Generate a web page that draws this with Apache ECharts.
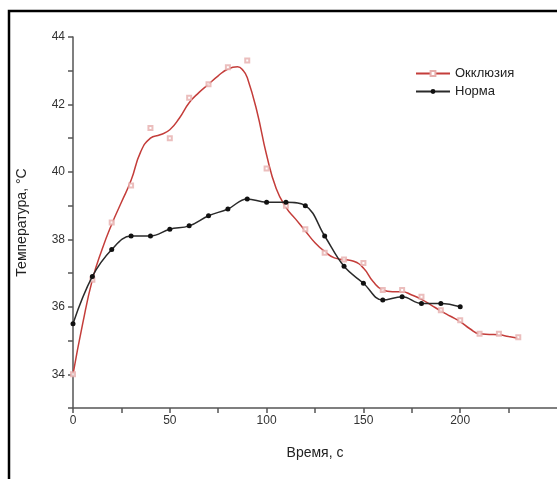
<!DOCTYPE html>
<html>
<head>
<meta charset="utf-8">
<script src="https://cdn.jsdelivr.net/npm/echarts@6/dist/echarts.min.js"></script>
<style>
html, body { margin: 0; padding: 0; background: #fff; }
#main { width: 557px; height: 479px; }
</style>
</head>
<body>
<div id="main"></div>
<script>
// Окклюзия: измеренные точки, время, с / температура, °C
var timeOccl = [0, 10, 20, 30, 40, 50, 60, 70, 80, 90, 100, 110, 120, 130, 140, 150, 160, 170, 180, 190, 200, 210, 220, 230];
var tempOccl = [34.0, 36.8, 38.5, 39.6, 41.3, 41.0, 42.2, 42.6, 43.1, 43.3, 40.1, 39.0, 38.3, 37.6, 37.4, 37.3, 36.5, 36.5, 36.3, 35.9, 35.6, 35.2, 35.2, 35.1];
// Окклюзия: сглаженная кривая
var timeOcclFit = [0, 5, 10, 15, 20, 25, 30, 35, 40, 45, 50, 55, 60, 65, 70, 75, 80, 85, 88, 90, 95, 100, 105, 110, 115, 120, 125, 130, 135, 140, 145, 150, 155, 160, 165, 170, 175, 180, 185, 190, 195, 200, 205, 210, 215, 220, 225, 230];
var tempOcclFit = [34.0, 35.5, 36.8, 37.7, 38.45, 39.1, 39.75, 40.6, 41.0, 41.1, 41.25, 41.6, 42.05, 42.35, 42.6, 42.85, 43.05, 43.12, 43.0, 42.8, 41.8, 40.5, 39.5, 38.95, 38.6, 38.25, 37.9, 37.64, 37.45, 37.4, 37.35, 37.15, 36.75, 36.5, 36.45, 36.45, 36.35, 36.22, 36.05, 35.88, 35.72, 35.56, 35.35, 35.2, 35.18, 35.17, 35.12, 35.07];
// Норма
var timeNorm = [0, 10, 20, 30, 40, 50, 60, 70, 80, 90, 100, 110, 120, 130, 140, 150, 160, 170, 180, 190, 200];
var tempNorm = [35.5, 36.9, 37.7, 38.1, 38.1, 38.3, 38.4, 38.7, 38.9, 39.2, 39.1, 39.1, 39.0, 38.1, 37.2, 36.7, 36.2, 36.3, 36.1, 36.1, 36.0];
var names = ['Окклюзия', 'Норма'];

function pairs(xs, ys) {
  return xs.map(function (x, i) { return [x, ys[i]]; });
}

var myChart = echarts.init(document.getElementById('main'));
var font = 'Liberation Sans, Arial, sans-serif';
var option = {
  animation: false,
  backgroundColor: '#fff',
  textStyle: { fontFamily: font },
  graphic: [{
    type: 'rect',
    shape: { x: 9, y: 11, width: 700, height: 700 },
    style: { fill: 'none', stroke: '#000', lineWidth: 2.5 },
    z: 100
  }],
  grid: { left: 73, top: 37, right: -5, bottom: 71 },
  legend: {
    orient: 'vertical',
    left: 410,
    top: 62,
    itemWidth: 34,
    itemHeight: 6,
    itemGap: 5,
    textStyle: { fontFamily: font, fontSize: 13, color: '#222' },
    data: names
  },
  xAxis: {
    type: 'value',
    min: 0,
    max: 250,
    interval: 25,
    name: 'Время, с',
    nameLocation: 'middle',
    nameGap: 38,
    nameTextStyle: { fontFamily: font, fontSize: 14, color: '#222' },
    splitLine: { show: false },
    axisLine: { onZero: false, lineStyle: { color: '#555', width: 1.5 } },
    axisTick: { length: 5, lineStyle: { color: '#555', width: 1.5 } },
    axisLabel: {
      fontSize: 12, color: '#333', margin: 7, showMaxLabel: false,
      formatter: function (v) { return v % 50 === 0 ? v : ''; }
    }
  },
  yAxis: {
    type: 'value',
    min: 33,
    max: 44,
    interval: 1,
    name: 'Температура, °C',
    nameLocation: 'middle',
    nameGap: 44,
    nameTextStyle: { fontFamily: font, fontSize: 14, color: '#222' },
    splitLine: { show: false },
    axisLine: { onZero: false, lineStyle: { color: '#555', width: 1.5 } },
    axisTick: { length: 5, lineStyle: { color: '#555', width: 1.5 } },
    axisLabel: {
      fontSize: 12, color: '#333', margin: 8, interval: 0,
      formatter: function (v) { return (v % 2 === 0) ? v : ''; }
    }
  },
  series: [
    {
      name: names[0],
      type: 'line',
      smooth: true,
      symbol: 'emptyRect',
      symbolSize: 4,
      showSymbol: false,
      lineStyle: { color: '#c43d3a', width: 1.5 },
      itemStyle: { color: '#e6aeac' },
      data: pairs(timeOcclFit, tempOcclFit)
    },
    {
      name: 'Окклюзия (точки)',
      type: 'scatter',
      symbol: 'emptyRect',
      symbolSize: 4,
      itemStyle: { color: '#e6aeac', borderWidth: 1 },
      z: 3,
      data: pairs(timeOccl, tempOccl)
    },
    {
      name: names[1],
      type: 'line',
      smooth: 0.4,
      symbol: 'circle',
      symbolSize: 5,
      lineStyle: { color: '#2a2a2a', width: 1.5 },
      itemStyle: { color: '#111' },
      z: 4,
      data: pairs(timeNorm, tempNorm)
    }
  ]
};
myChart.setOption(option);
</script>
</body>
</html>
